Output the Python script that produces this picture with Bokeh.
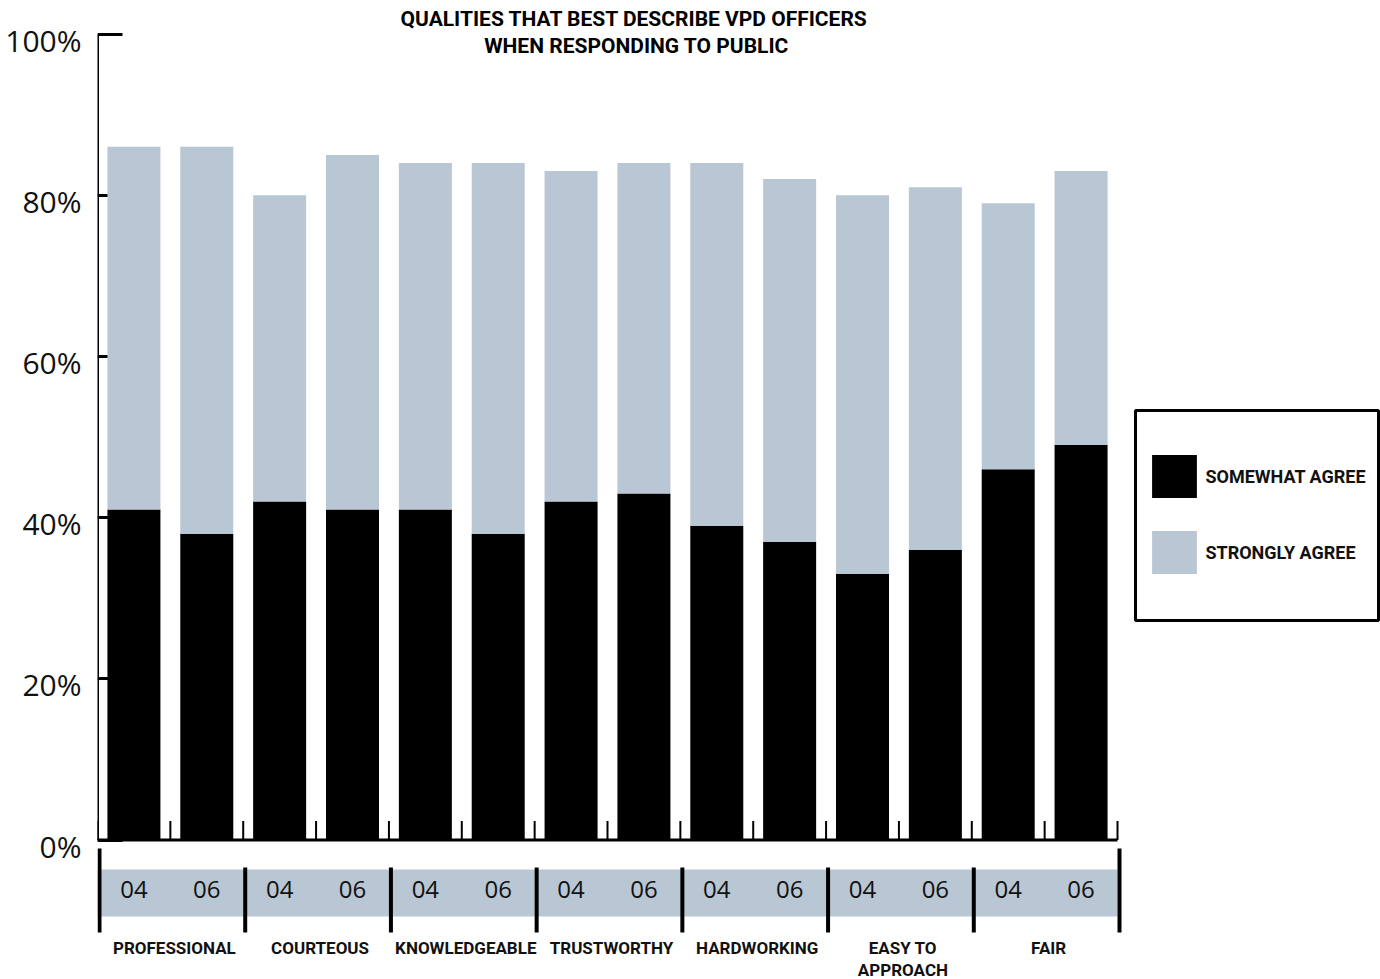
from bokeh.plotting import figure
from bokeh.models import (Range1d, LinearAxis, FixedTicker, Legend, LegendItem,
                          BoxAnnotation, ColumnDataSource)
from bokeh.core.properties import value
from bokeh.embed import file_html
from bokeh.resources import INLINE

# ---------------- data ----------------
title_lines = ["QUALITIES THAT BEST DESCRIBE VPD OFFICERS", "WHEN RESPONDING TO PUBLIC"]
categories = ["PROFESSIONAL", "COURTEOUS", "KNOWLEDGEABLE", "TRUSTWORTHY",
              "HARDWORKING", "EASY TO\nAPPROACH", "FAIR"]
years = ["04", "06"]
somewhat_agree = [41, 38, 42, 41, 41, 38, 42, 43, 39, 37, 33, 36, 46, 49]
strongly_agree = [45, 48, 38, 44, 43, 46, 41, 41, 45, 45, 47, 45, 33, 34]
series_names = ["SOMEWHAT AGREE", "STRONGLY AGREE"]
y_ticks = [0, 20, 40, 60, 80, 100]
y_tick_labels = ["0%", "20%", "40%", "60%", "80%", "100%"]

# ---------------- layout (pixels) ----------------
W, H = 1380, 979
FL = 97            # frame left / y axis
PLOT_R = 1117      # right end of the bar area
Y0, Y100 = 839.5, 33.5
GREY = "#B9C6D3"
colors = ["#000000", GREY]

n_years = len(years)
n = len(categories) * n_years
slot = (PLOT_R - FL) / n
ppu = (Y0 - Y100) / 100.0


def px_x(px):
    return (px - FL) / slot


def px_y(py):
    return (Y0 - py) / ppu


x_range = Range1d(0, px_x(W))
y_range = Range1d(px_y(H), px_y(0))

p = figure(width=W, height=H, x_range=x_range, y_range=y_range,
           output_backend="svg", toolbar_location=None,
           x_axis_location=None, y_axis_location="left",
           min_border_left=FL, min_border_right=0, min_border_top=0, min_border_bottom=0)
p.outline_line_color = None
p.grid.visible = False
p.background_fill_color = "white"
p.border_fill_color = "white"

# ---------------- bars ----------------
xs = [i + 0.5 for i in range(n)]
src = ColumnDataSource(dict(x=xs, somewhat=somewhat_agree, strongly=strongly_agree))
bars = p.vbar_stack(["somewhat", "strongly"], x="x", width=53 / slot, color=colors,
                    line_color=None, source=src)

# ---------------- y axis (line + inward ticks) ----------------
ya = p.yaxis[0]
ya.ticker = FixedTicker(ticks=y_ticks)
ya.bounds = (0, 100)
ya.axis_line_width = 3
ya.axis_line_color = "black"
ya.major_tick_in = 25
ya.major_tick_out = 0
ya.major_tick_line_width = 3
ya.minor_tick_line_color = None
ya.major_label_overrides = {t: "" for t in y_ticks}
ya.major_label_standoff = 0
ya.level = "underlay"

# labels axis, nudged a little below the ticks as in the original
d = 6 / ppu
p.extra_y_ranges = {"lab": Range1d(y_range.start + d, y_range.end + d)}
la = LinearAxis(y_range_name="lab", ticker=FixedTicker(ticks=y_ticks),
                axis_line_color=None, major_tick_line_color=None,
                minor_tick_line_color=None, major_label_standoff=10,
                major_label_overrides={t: l for t, l in zip(y_ticks, y_tick_labels)},
                major_label_text_font="Open Sans", major_label_text_font_size="30px",
                major_label_text_color="#111111")
p.add_layout(la, "left")

# ---------------- bottom base line and ticks ----------------
bounds = list(range(n + 1))
p.segment(x0=[0], y0=[0], x1=[n], y1=[0], line_color="black", line_width=3)
p.segment(x0=bounds, y0=[0] * len(bounds), x1=bounds, y1=[19 / ppu] * len(bounds),
          line_color="black", line_width=2)

# ---------------- year band ----------------
p.quad(left=[0], right=[n], top=[px_y(869)], bottom=[px_y(916)],
       fill_color=GREY, line_color=None)
seps = list(range(0, n + 1, n_years))
off = 2 / slot
sep_top = [px_y(848) if (s == 0 or s == n) else px_y(867) for s in seps]
p.segment(x0=[s + off for s in seps], y0=sep_top, x1=[s + off for s in seps],
          y1=[px_y(932)] * len(seps), line_color="black", line_width=4)

p.text(x=xs, y=[px_y(889)] * n, text=years * len(categories),
       text_align="center", text_baseline="middle",
       text_font=value("Open Sans"), text_font_size="24px", text_color="#111111")

cat_x = [k * n_years + n_years / 2 for k in range(len(categories))]
p.text(x=cat_x, y=[px_y(937)] * len(categories), text=categories,
       text_align="center", text_baseline="top", text_line_height=1.12,
       x_offset=4,
       text_font=value("Roboto"), text_font_style="bold", text_font_size="17px",
       text_color="#111111")

# ---------------- title ----------------
p.text(x=[px_x(634), px_x(636)], y=[px_y(18), px_y(45)], text=title_lines,
       text_align="center", text_baseline="middle",
       text_font=value("Roboto"), text_font_style="bold", text_font_size="21px",
       text_color="black")

# ---------------- legend ----------------
box = BoxAnnotation(left=px_x(1135), right=px_x(1378), top=px_y(410), bottom=px_y(620),
                    fill_color=None, line_color="black", line_alpha=1.0, line_width=3)
p.add_layout(box)
GW, GH = 56, 54   # bokeh insets area swatches by 10% on each side
legend = Legend(items=[LegendItem(label=series_names[0], renderers=[bars[0]]),
                       LegendItem(label=series_names[1], renderers=[bars[1]])],
                location=(1152 - 5.6 - FL, H - 579.4), orientation="vertical",
                glyph_width=GW, glyph_height=GH, spacing=22, padding=0, margin=0,
                label_standoff=3, border_line_color=None, background_fill_alpha=0,
                label_text_font="Roboto", label_text_font_style="bold",
                label_text_font_size="18px", label_text_color="#111111")
p.add_layout(legend)

open("out.html", "w").write(file_html(p, INLINE))
